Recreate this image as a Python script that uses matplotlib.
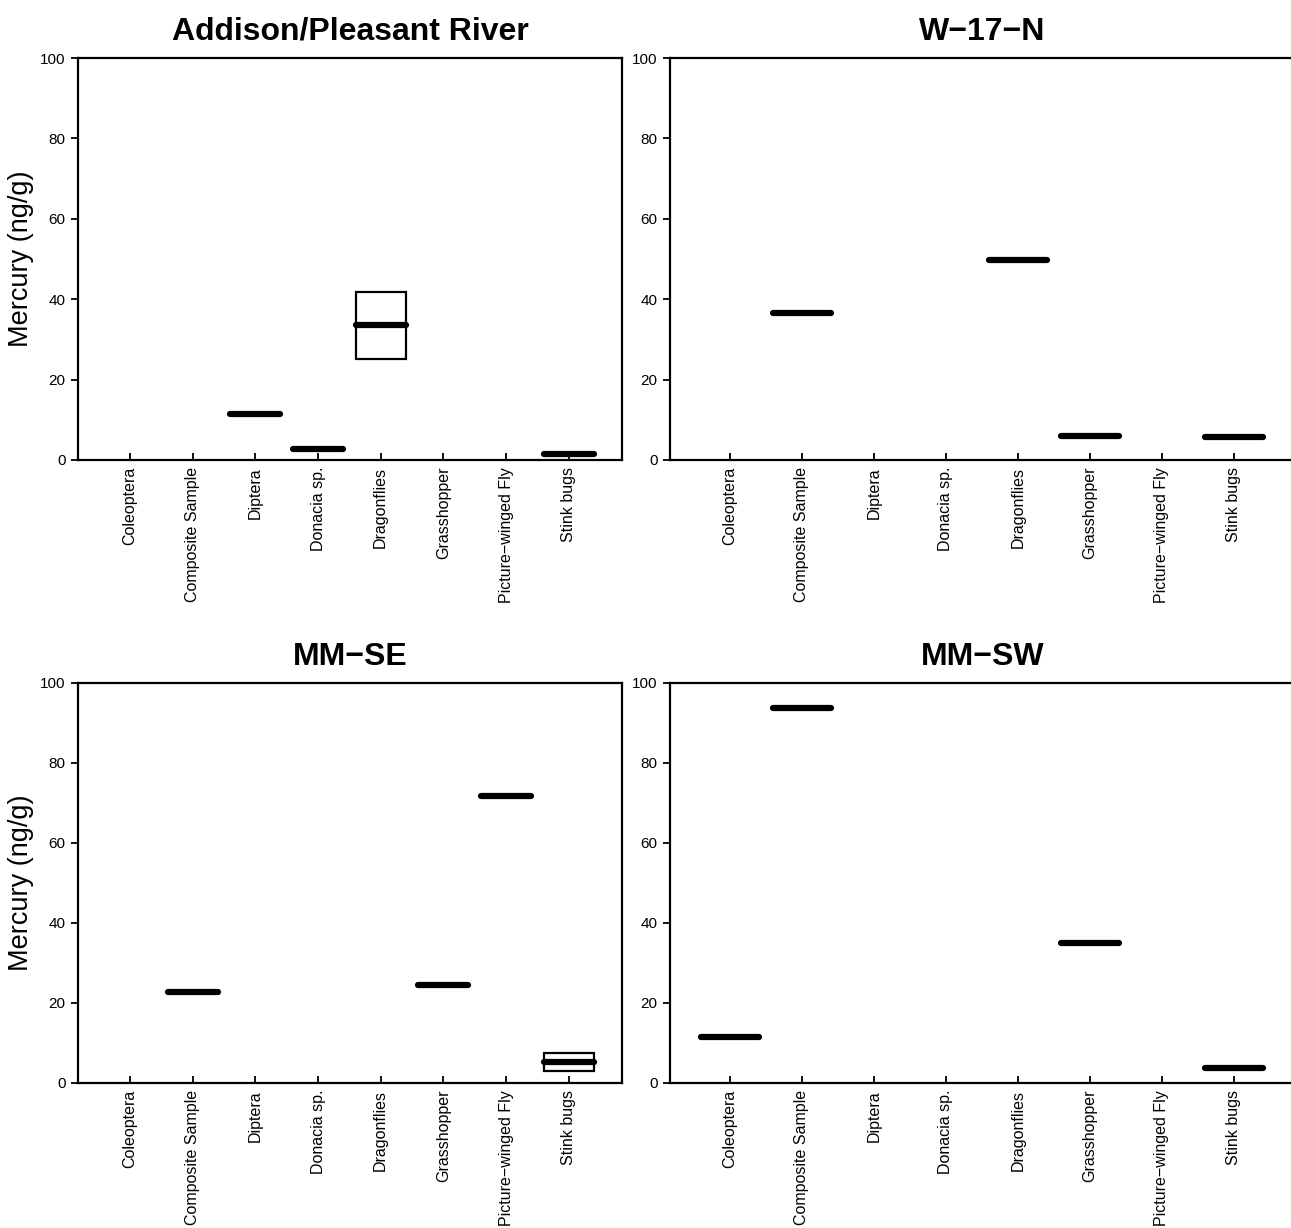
import matplotlib
matplotlib.use("Agg")
import matplotlib.pyplot as plt
import numpy as np

plt.rcParams['font.family'] = ['Liberation Sans', 'DejaVu Sans']

categories = ["Coleoptera", "Composite Sample", "Diptera", "Donacia sp.",
              "Dragonflies", "Grasshopper", "Picture\u2212winged Fly", "Stink bugs"]

titles = ["Addison/Pleasant River", "W\u221217\u2212N", "MM\u2212SE", "MM\u2212SW"]

# per panel: lower hinge, median, upper hinge (None = no data)
addison_lo  = [None, None, 11.5, 2.7, 25.0, None, None, 1.6]
addison_med = [None, None, 11.5, 2.7, 33.5, None, None, 1.6]
addison_hi  = [None, None, 11.5, 2.7, 41.8, None, None, 1.6]

w17n_lo  = [None, 36.5, None, None, 49.7, 5.6, None, 5.8]
w17n_med = [None, 36.5, None, None, 49.7, 5.9, None, 5.8]
w17n_hi  = [None, 36.5, None, None, 49.7, 6.2, None, 5.8]

mmse_lo  = [None, 22.7, None, None, None, 24.5, 71.8, 3.0]
mmse_med = [None, 22.7, None, None, None, 24.5, 71.8, 5.3]
mmse_hi  = [None, 22.7, None, None, None, 24.5, 71.8, 7.5]

mmsw_lo  = [11.5, 93.7, None, None, None, 35.0, None, 3.8]
mmsw_med = [11.5, 93.7, None, None, None, 35.0, None, 3.8]
mmsw_hi  = [11.5, 93.7, None, None, None, 35.0, None, 3.8]

panels = [(addison_lo, addison_med, addison_hi),
          (w17n_lo, w17n_med, w17n_hi),
          (mmse_lo, mmse_med, mmse_hi),
          (mmsw_lo, mmsw_med, mmsw_hi)]

W, H = 1291, 1228
fig = plt.figure(figsize=(W / 100, H / 100), dpi=100)

rects = [
    (78 / W, 1 - 460 / H, 544 / W, 402 / H),
    (670 / W, 1 - 460 / H, 625 / W, 402 / H),
    (78 / W, 1 - 1083 / H, 544 / W, 400 / H),
    (670 / W, 1 - 1083 / H, 625 / W, 400 / H),
]

x = np.arange(1, len(categories) + 1)
bw = 0.8

for i, (rect, (lo, med, hi), title) in enumerate(zip(rects, panels, titles)):
    ax = fig.add_axes(rect)
    ax.set_xlim(0.17, 8.85)
    ax.set_ylim(0, 100)
    for xi, l, m, h in zip(x, lo, med, hi):
        if m is None:
            continue
        if h - l > 0.5:
            ax.bar(xi, h - l, bottom=l, width=bw, fill=False,
                   edgecolor='black', linewidth=1.6, zorder=2)
        ax.hlines(m, xi - bw / 2, xi + bw / 2, colors='black',
                  linewidth=4.5, capstyle='round', zorder=3)
    ax.set_xticks(x)
    ax.set_xticklabels(categories, rotation=90, fontsize=11.5)
    ax.set_yticks([0, 20, 40, 60, 80, 100])
    ax.tick_params(axis='y', direction='out', length=5, width=1.3,
                   labelsize=11, pad=4)
    ax.tick_params(axis='x', direction='in', length=5, width=1.3, pad=5)
    for s in ax.spines.values():
        s.set_linewidth(1.6)
    ax.set_title(title, fontsize=23, fontweight='bold', pad=13)
    if i % 2 == 0:
        ax.set_ylabel("Mercury (ng/g)", fontsize=19.5, labelpad=4)

fig.savefig("out.png", dpi=100)
